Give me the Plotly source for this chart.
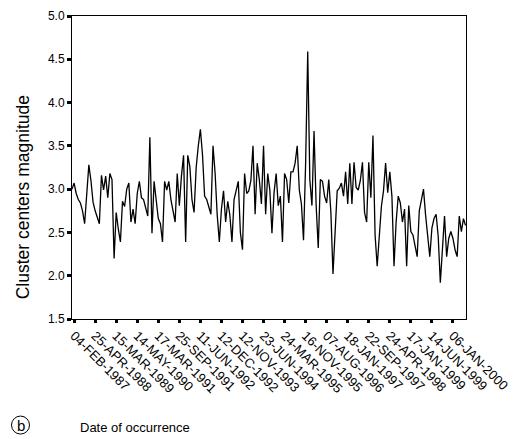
import plotly.graph_objects as go

# Cluster centers magnitude (one value per event index)
magnitude = [
    3.00, 3.07, 2.95, 2.88, 2.84, 2.75, 2.60, 2.90, 3.28, 3.10,
    2.85, 2.75, 2.68, 2.60, 3.16, 2.99, 3.15, 2.90, 3.18, 3.11,
    2.20, 2.73, 2.54, 2.39, 2.86, 2.80, 3.00, 3.07, 2.62, 2.77,
    2.60, 2.95, 3.09, 2.90, 2.88, 2.80, 2.69, 3.60, 2.49, 3.09,
    2.84, 2.66, 2.60, 2.39, 3.09, 2.99, 3.09, 2.88, 2.75, 2.62,
    3.18, 2.81, 3.15, 3.39, 2.39, 3.39, 3.26, 2.88, 2.73, 3.25,
    3.50, 3.69, 3.40, 2.92, 2.88, 2.80, 2.71, 3.50, 3.18, 2.70,
    2.39, 2.77, 2.98, 2.62, 2.86, 2.70, 2.39, 2.88, 2.98, 3.09,
    2.50, 2.30, 3.18, 2.95, 2.98, 3.10, 3.50, 2.71, 3.30, 3.11,
    2.83, 3.50, 2.71, 3.18, 2.99, 2.49, 2.96, 3.18, 2.81, 2.92,
    2.39, 3.18, 3.11, 2.84, 3.20, 3.20, 3.30, 3.50, 2.99, 2.83,
    2.41, 3.30, 4.59, 3.11, 2.81, 3.67, 2.81, 2.32, 3.11, 3.09,
    2.92, 2.84, 3.11, 2.73, 2.02, 2.43, 2.98, 3.01, 3.07, 2.92,
    3.20, 2.83, 3.30, 2.83, 3.31, 3.02, 2.99, 3.10, 3.31, 2.73,
    2.62, 3.31, 2.90, 3.62, 2.47, 2.11, 2.47, 2.80, 2.98, 3.30,
    2.96, 3.20, 2.92, 2.11, 2.62, 2.92, 2.84, 2.62, 2.77, 2.11,
    2.81, 2.51, 2.47, 2.35, 2.22, 2.75, 2.88, 3.00, 2.70, 2.43,
    2.22, 2.55, 2.66, 2.71, 2.45, 1.92, 2.36, 2.69, 2.22, 2.43,
    2.51, 2.43, 2.30, 2.22, 2.69, 2.51, 2.66, 2.58,
]
event_index = list(range(len(magnitude)))

# Date tick labels and the event indices they sit on
tick_dates = [
    "04-FEB-1987", "25-APR-1988", "15-MAR-1989", "14-MAY-1990", "17-MAR-1991",
    "25-SEP-1991", "11-JUN-1992", "12-DEC-1992", "12-NOV-1993", "23-JUN-1994",
    "24-MAR-1995", "16-NOV-1995", "07-AUG-1996", "18-JAN-1997", "22-SEP-1997",
    "24-APR-1998", "17-JAN-1999", "14-JUN-1999", "06-JAN-2000",
]
tick_index = [1 + 10 * k for k in range(len(tick_dates))]

y_ticks = [1.5, 2.0, 2.5, 3.0, 3.5, 4.0, 4.5, 5.0]

FONT = "Liberation Sans, Arial, Helvetica, sans-serif"

fig = go.Figure()
fig.add_trace(go.Scatter(
    x=event_index, y=magnitude, mode="lines",
    line=dict(color="black", width=1.3),
    showlegend=False, hoverinfo="skip",
))

fig.update_layout(
    width=520, height=439,
    margin=dict(l=72, r=50, t=9, b=120),
    paper_bgcolor="white", plot_bgcolor="white",
    font=dict(family=FONT, color="black", size=11),
    xaxis=dict(
        range=[0, 187.2], showgrid=False, zeroline=False,
        showline=True, linecolor="black", linewidth=1, mirror=True,
        ticks="outside", ticklen=3, tickwidth=3, tickcolor="black",
        tickmode="array", tickvals=tick_index, ticktext=tick_dates,
        tickangle=45, tickfont=dict(size=13, family=FONT),
    ),
    yaxis=dict(
        range=[1.5, 5.0], showgrid=False, zeroline=False,
        showline=True, linecolor="black", linewidth=1, mirror=True,
        ticks="outside", ticklen=4, tickwidth=3, tickcolor="black",
        tickmode="array", tickvals=y_ticks,
        ticktext=[f"{v:.1f}" for v in y_ticks],
        tickfont=dict(size=12, family=FONT),
    ),
)

fig.add_annotation(
    text="Cluster centers magnitude", textangle=-90,
    xref="paper", yref="paper", x=-0.1256, y=0.40,
    xanchor="center", yanchor="middle", showarrow=False,
    font=dict(size=17.5, family=FONT),
)
fig.add_annotation(
    text="Date of occurrence",
    xref="paper", yref="paper", x=0.015, y=-0.358,
    xanchor="left", yanchor="middle", showarrow=False,
    font=dict(size=13, family=FONT),
)
fig.add_annotation(
    text="b",
    xref="paper", yref="paper", x=-0.1307, y=-0.350,
    xanchor="center", yanchor="middle", showarrow=False,
    font=dict(size=15, family=FONT),
)
fig.add_shape(
    type="circle", xref="paper", yref="paper",
    xsizemode="pixel", ysizemode="pixel",
    xanchor=-0.1307, yanchor=-0.350,
    x0=-9, x1=9, y0=-9, y1=9,
    line=dict(color="black", width=1),
)

fig.write_html(
    "out.html",
    config={"displayModeBar": False},
    post_script="document.body.style.margin='0';"
                "document.documentElement.style.overflow='hidden';",
)
